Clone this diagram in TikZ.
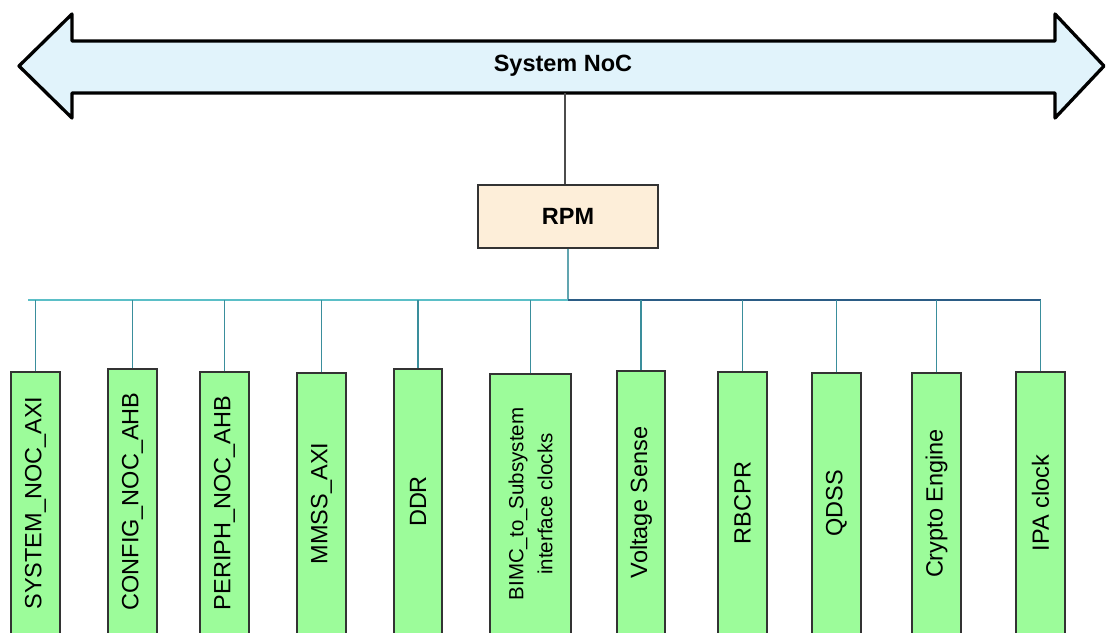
\documentclass[tikz,border=0pt]{standalone}
\usepackage{fontspec}
\setmainfont{Liberation Sans}
\definecolor{nocfill}{HTML}{E1F3FB}
\definecolor{rpmfill}{HTML}{FDEED9}
\definecolor{clkfill}{HTML}{9CFC9A}
\definecolor{clkedge}{HTML}{333333}
\definecolor{stubcol}{HTML}{3A8E9C}
\definecolor{busleft}{HTML}{5BBFC7}
\definecolor{busright}{HTML}{2B5C85}
\begin{document}
\begin{tikzpicture}[x=1pt,y=-1pt,
  nocarrow/.style={draw=black,line width=3.3pt,fill=nocfill,line join=round},
  rpmbox/.style={draw=clkedge,line width=1.3pt,fill=rpmfill,minimum width=180pt,minimum height=63pt,inner sep=0pt,
    font=\fontsize{23.5}{27}\selectfont\bfseries},
  clkbox/.style={draw=clkedge,line width=1.3pt,fill=clkfill,rotate=90,inner sep=0pt,align=center,
    font=\fontsize{23.5}{27}\selectfont},
  stub/.style={draw=stubcol,line width=1.4pt},
]
\useasboundingbox (0,0) rectangle (1108,632);

% system NoC double-headed arrow
\draw[nocarrow] (19,66) -- (72,14) -- (72,41) -- (1055,41) -- (1055,14) -- (1104,66)
  -- (1055,118) -- (1055,93) -- (72,93) -- (72,118) -- cycle;
\node[font=\fontsize{23.5}{27}\selectfont\bfseries] (noc) at (563,66) {System NoC};
\coordinate (nocbase) at (565,93);

% RPM block
\node[rpmbox] (rpm) at (568,216.5) {RPM};
\draw[draw=black!70,line width=1.3pt] (nocbase) -- (rpm.north -| nocbase);

% distribution bus
\coordinate (busL) at (28,300);
\coordinate (busR) at (1041,300);
\coordinate (busJ) at (rpm.south |- busL);
\draw[draw=stubcol!80,line width=1.3pt] (rpm.south) -- (busJ);
\draw[draw=busleft,line width=1.5pt] (busL) -- (busJ);
\draw[draw=busright,line width=1.5pt] (busJ) -- (busR);

% clock domain blocks: name / centre x / width / top / label
\foreach \n/\cx/\w/\t/\lbl in {
  b1/35.5/49/372/SYSTEM\_NOC\_AXI,
  b2/132.5/49/369/CONFIG\_NOC\_AHB,
  b3/224.5/49/372/PERIPH\_NOC\_AHB,
  b4/321.5/49/373/MMSS\_AXI,
  b5/418/48/369/DDR,
  b7/641/48/371/Voltage Sense,
  b8/742.5/49/372/RBCPR,
  b9/836.5/49/373/QDSS,
  b10/936.5/49/373/Crypto Engine,
  b11/1040.5/49/372/IPA clock} {
  \pgfmathsetmacro{\len}{634-\t}
  \pgfmathsetmacro{\cy}{(634+\t)/2}
  \node[clkbox,minimum width=\len pt,minimum height=\w pt] (\n) at (\cx,\cy) {\lbl};
  \draw[stub] (\n.east) -- (\n.east |- busL);
}
\node[clkbox,minimum width=260pt,minimum height=81pt,font=\fontsize{20.5}{29}\selectfont] (b6) at (530.5,504)
  {BIMC\_to\_Subsystem\\interface clocks};
\draw[stub] (b6.east) -- (b6.east |- busL);
\end{tikzpicture}
\end{document}
